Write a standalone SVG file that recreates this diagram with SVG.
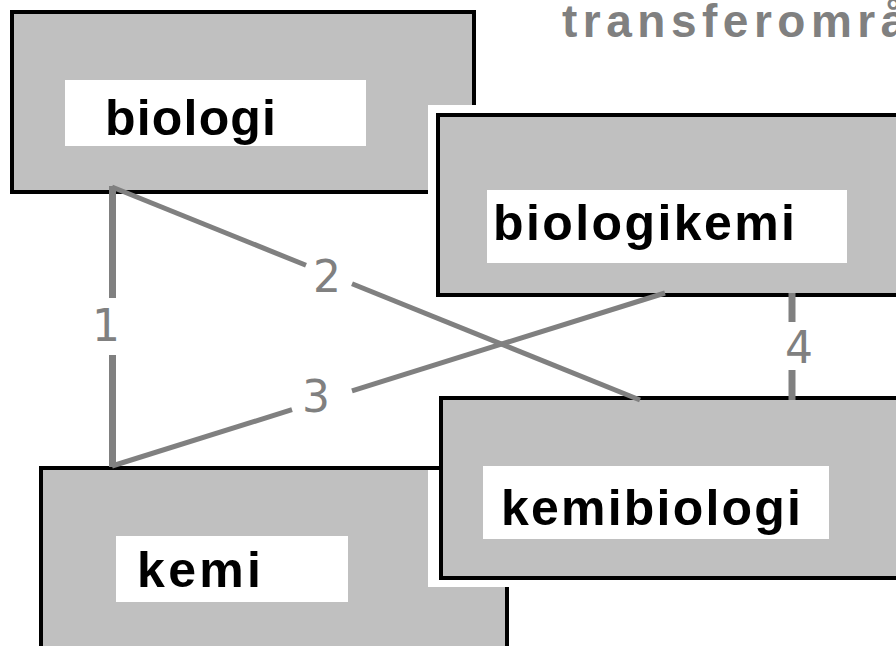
<svg xmlns="http://www.w3.org/2000/svg" width="896" height="646" viewBox="0 0 896 646">
<style>
.box{fill:#c0c0c0;stroke:#000;stroke-width:4}
.halo{fill:#fff}
.lab{fill:#fff}
.t{font-family:"Liberation Sans",Arial,sans-serif;font-weight:bold;font-size:50px;fill:#000}
.title{font-family:"Liberation Sans",Arial,sans-serif;font-weight:bold;font-size:46px;fill:#808080;letter-spacing:5.5px}
.c{stroke:#808080;fill:none}
.v{stroke-width:7}
.d{stroke-width:5}
.n{font-family:"DejaVu Sans",sans-serif;font-size:44px;fill:#808080;text-anchor:middle}
</style>
<rect width="896" height="646" fill="#fff"/>
<text class="title" x="562" y="37">transferområ</text>
<g id="biologi">
<rect class="box" x="12" y="12" width="462" height="180"/>
<rect class="lab" x="65" y="80" width="301" height="66"/>
<text class="t" x="105" y="135" textLength="171" lengthAdjust="spacing">biologi</text>
</g>
<g id="biologikemi">
<rect class="halo" x="428" y="105" width="480" height="200"/>
<rect class="box" x="438" y="115" width="470" height="180"/>
<rect class="lab" x="487" y="190" width="360" height="73"/>
<text class="t" x="493" y="240" textLength="302" lengthAdjust="spacing">biologikemi</text>
</g>
<g id="kemi">
<rect class="box" x="41" y="468" width="466" height="200"/>
<rect class="lab" x="116" y="536" width="232" height="66"/>
<text class="t" x="137" y="587" textLength="124" lengthAdjust="spacing">kemi</text>
</g>
<g id="kemibiologi">
<rect class="halo" x="428" y="470" width="480" height="117"/>
<line x1="39" y1="468" x2="441" y2="468" stroke="#000" stroke-width="4"/>
<rect class="box" x="441" y="398" width="470" height="180"/>
<rect class="lab" x="483" y="466" width="346" height="73"/>
<text class="t" x="501" y="525" textLength="300" lengthAdjust="spacing">kemibiologi</text>
</g>
<g id="connectors">
<line class="c v" x1="112.5" y1="186" x2="112.5" y2="298"/>
<line class="c v" x1="112.5" y1="355" x2="112.5" y2="467"/>
<line class="c d" x1="112" y1="187" x2="306" y2="265.3"/>
<line class="c d" x1="352" y1="283.8" x2="640" y2="400"/>
<line class="c d" x1="112" y1="466" x2="292" y2="409.7"/>
<line class="c d" x1="352" y1="390.9" x2="665" y2="293"/>
<line class="c v" x1="792" y1="293" x2="792" y2="322"/>
<line class="c v" x1="792" y1="370" x2="792" y2="400"/>
<text class="n" x="106" y="341">1</text>
<text class="n" x="327" y="292">2</text>
<text class="n" x="316" y="412">3</text>
<text class="n" x="799" y="363">4</text>
</g>
</svg>
